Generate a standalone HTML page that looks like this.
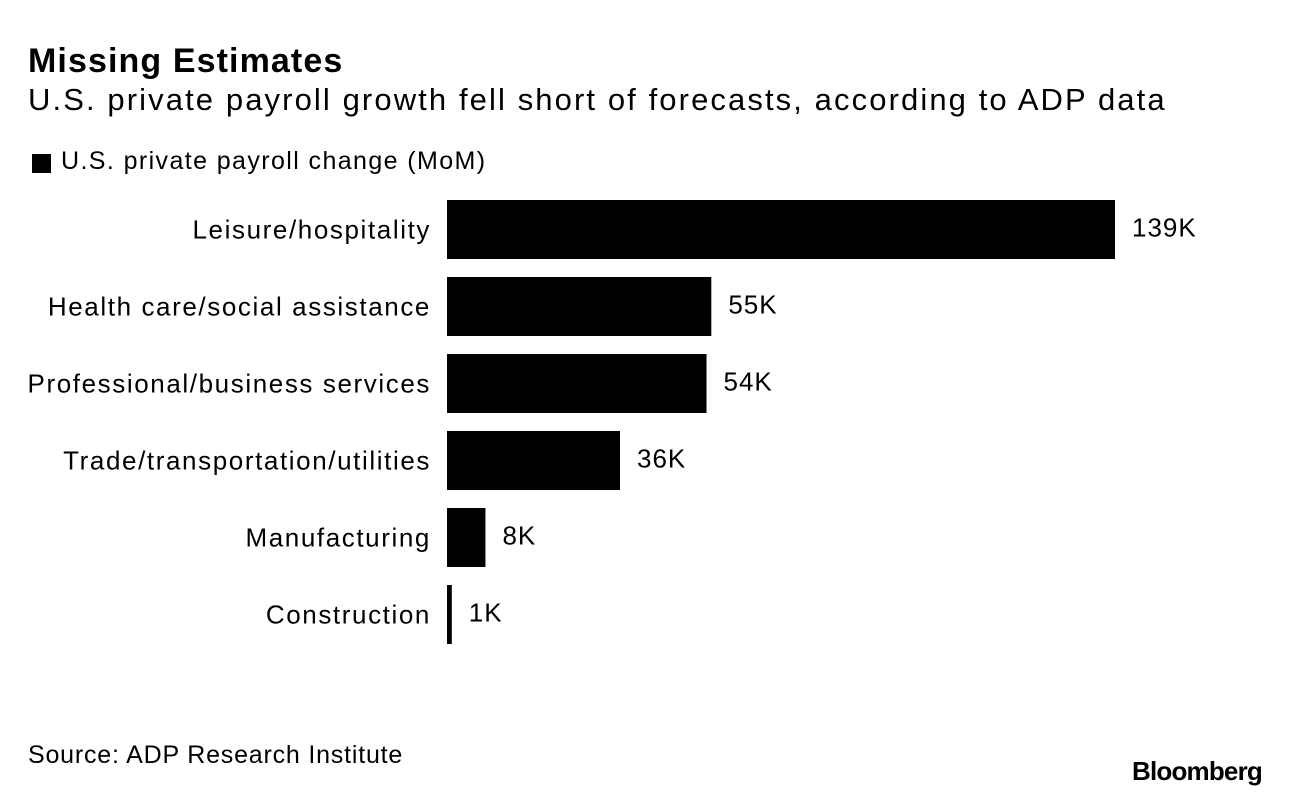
<!DOCTYPE html>
<html><head><meta charset="utf-8"><style>
body{margin:0;background:#fff;width:1289px;height:796px;overflow:hidden;font-family:"Liberation Sans",sans-serif;color:#000}
.t{position:absolute;white-space:nowrap}
</style></head><body>
<div class="t" style="left:28px;top:42px;font-size:34px;font-weight:bold;letter-spacing:1.1px">Missing Estimates</div>
<div class="t" style="left:28px;top:82px;font-size:31px;letter-spacing:2.1px">U.S. private payroll growth fell short of forecasts, according to ADP data</div>
<div style="position:absolute;left:32px;top:154px;width:19px;height:19px;background:#000"></div>
<div class="t" style="left:61px;top:147px;font-size:25px;letter-spacing:1.4px">U.S. private payroll change (MoM)</div>
<svg id="chart" style="position:absolute;left:0;top:0" width="1289" height="796"></svg>
<div class="t" style="left:28px;top:741px;font-size:25px;letter-spacing:0.8px">Source: ADP Research Institute</div>
<div class="t" style="right:27px;top:756px;font-size:26px;font-weight:bold;letter-spacing:-0.8px">Bloomberg</div>
<script>
const categories=["Leisure/hospitality","Health care/social assistance","Professional/business services","Trade/transportation/utilities","Manufacturing","Construction"];
const values=[139,55,54,36,8,1];
const valueLabels=["139K","55K","54K","36K","8K","1K"];
const svg=document.getElementById('chart');
const NS='http://www.w3.org/2000/svg';
const x0=447,scale=668/139;
function xPos(v){return x0+v*scale;}
function yPos(i){return 200+i*77;}
const bh=59;
categories.forEach((c,i)=>{
 const y=yPos(i);
 const w=Math.max(xPos(values[i])-x0,3);
 const r=document.createElementNS(NS,'rect');
 r.setAttribute('x',x0);r.setAttribute('y',y);r.setAttribute('width',w);r.setAttribute('height',bh);r.setAttribute('fill','#000');
 
 
 svg.appendChild(r);
 const t=document.createElementNS(NS,'text');
 t.setAttribute('x',431);t.setAttribute('y',y+bh/2+9);t.setAttribute('text-anchor','end');t.setAttribute('font-size','26');t.setAttribute('font-family','Liberation Sans, sans-serif');t.setAttribute('letter-spacing','1.6');
 t.textContent=c;
 
 
 svg.appendChild(t);
 const v=document.createElementNS(NS,'text');
 v.setAttribute('x',x0+w+17);v.setAttribute('y',y+bh/2+7);v.setAttribute('font-size','26');v.setAttribute('font-family','Liberation Sans, sans-serif');v.setAttribute('letter-spacing','1');
 v.textContent=valueLabels[i];
 
 
 svg.appendChild(v);
});
</script>
</body></html>
